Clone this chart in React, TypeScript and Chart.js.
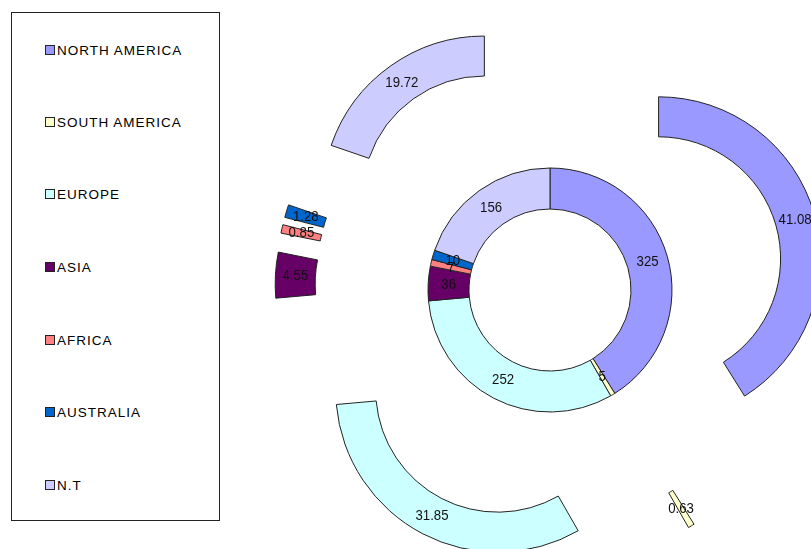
import React, { useEffect, useRef } from 'react';
import { Chart, registerables } from 'chart.js';

Chart.register(...registerables);

// ---- data ----
const regions = ['NORTH AMERICA', 'SOUTH AMERICA', 'EUROPE', 'ASIA', 'AFRICA', 'AUSTRALIA', 'N.T'];
const shareValues = [41.08, 0.63, 31.85, 4.55, 0.85, 1.28, 19.72]; // outer (exploded) ring, %
const countValues = [325, 5, 252, 36, 7, 10, 156]; // inner ring
const regionColors = ['#9999FF', '#FFFFCC', '#CCFFFF', '#660066', '#FF8080', '#0066CC', '#CCCCFF'];

const FONT = '"Liberation Sans", Arial, Helvetica, sans-serif';

const explodeOuterPlugin = {
  id: 'explodeOuter',
  afterDatasetsUpdate(chart: any, _args: any, opts: any) {
    const meta = chart.getDatasetMeta(0);
    const d = opts.distance || 0;
    meta.data.forEach((arc: any) => {
      const mid = (arc.startAngle + arc.endAngle) / 2;
      arc.x += Math.cos(mid) * d;
      arc.y += Math.sin(mid) * d;
    });
  },
};

const sliceLabelPlugin = {
  id: 'sliceLabels',
  afterDatasetsDraw(chart: any) {
    const ctx = chart.ctx;
    chart.data.datasets.forEach((ds: any, di: number) => {
      const meta = chart.getDatasetMeta(di);
      meta.data.forEach((arc: any, i: number) => {
        const p = arc.tooltipPosition(false);
        const v = ds.data[i];
        const text = di === 0 ? v.toFixed(2) : String(v);
        ctx.save();
        ctx.translate(p.x, p.y);
        ctx.scale(0.88, 1);
        ctx.font = `15px ${FONT}`;
        ctx.fillStyle = '#111';
        ctx.textAlign = 'center';
        ctx.textBaseline = 'middle';
        ctx.fillText(text, 0, 0);
        ctx.restore();
      });
    });
  },
};

const legendTops = [50, 122, 194, 267, 340, 412, 485];

export default function App() {
  const canvasRef = useRef<HTMLCanvasElement | null>(null);

  useEffect(() => {
    if (!canvasRef.current) return;
    const chart = new Chart(canvasRef.current, {
      type: 'doughnut',
      data: {
        labels: regions,
        datasets: [
          {
            data: shareValues,
            backgroundColor: regionColors,
            borderColor: '#222',
            borderWidth: 1,
            weight: 40,
            clip: false,
          } as any,
          {
            data: countValues,
            backgroundColor: regionColors,
            borderColor: '#222',
            borderWidth: 1,
            weight: 41,
            clip: false,
          } as any,
        ],
      },
      options: {
        responsive: false,
        animation: false,
        events: [],
        radius: 162,
        cutout: '50%',
        layout: { padding: { left: 289, right: 0, top: 31, bottom: 0 } },
        plugins: {
          legend: { display: false },
          tooltip: { enabled: false },
          explodeOuter: { distance: 113 },
        } as any,
      } as any,
      plugins: [explodeOuterPlugin, sliceLabelPlugin],
    });
    return () => chart.destroy();
  }, []);

  return (
    <div style={{ position: 'absolute', left: 0, top: 0, width: 811, height: 549, background: '#fff', overflow: 'hidden' }}>
      <canvas ref={canvasRef} width={811} height={549} style={{ position: 'absolute', left: 0, top: 0, display: 'block' }} />
      <div
        style={{
          position: 'absolute',
          left: 11,
          top: 12,
          width: 209,
          height: 509,
          boxSizing: 'border-box',
          border: '1.5px solid #222',
          background: '#fff',
        }}
      />
      {regions.map((name, i) => (
        <div
          key={name}
          style={{
            position: 'absolute',
            left: 45,
            top: legendTops[i] - 8,
            height: 16,
            display: 'flex',
            alignItems: 'center',
            fontFamily: FONT,
            fontSize: 13.5,
            letterSpacing: 1,
            color: '#000',
            whiteSpace: 'nowrap',
          }}
        >
          <span
            style={{
              display: 'inline-block',
              width: 10,
              height: 10,
              boxSizing: 'border-box',
              border: '1px solid #222',
              background: regionColors[i],
              marginRight: 2,
            }}
          />
          <span>{name}</span>
        </div>
      ))}
    </div>
  );
}
